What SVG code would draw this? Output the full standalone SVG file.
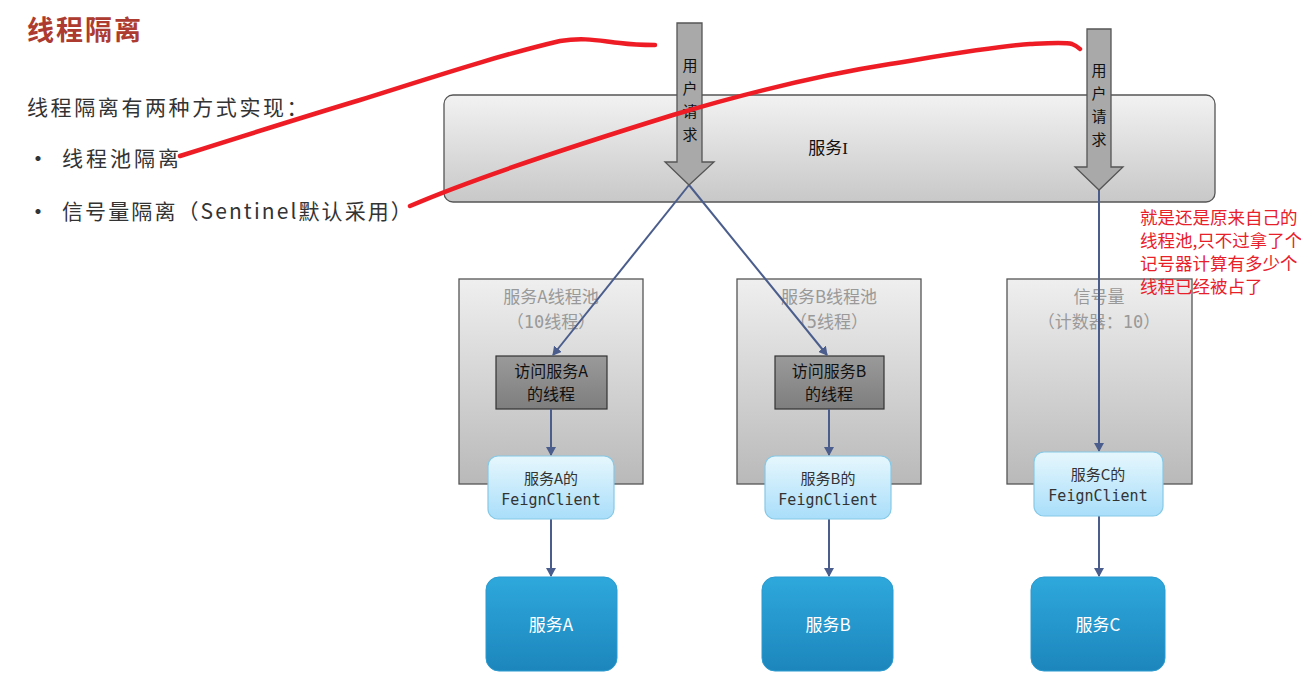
<svg xmlns="http://www.w3.org/2000/svg" width="1301" height="674" viewBox="0 0 1301 674">
<defs>
<linearGradient id="gSvc" x1="0" y1="0" x2="0" y2="1"><stop offset="0" stop-color="#f2f2f2"/><stop offset="1" stop-color="#c8c8c8"/></linearGradient>
<linearGradient id="gPool" x1="0" y1="0" x2="0" y2="1"><stop offset="0" stop-color="#efefef"/><stop offset="1" stop-color="#b9b9b9"/></linearGradient>
<linearGradient id="gThr" x1="0" y1="0" x2="0" y2="1"><stop offset="0" stop-color="#9a9a9a"/><stop offset="1" stop-color="#7e7e7e"/></linearGradient>
<linearGradient id="gFeign" x1="0" y1="0" x2="0" y2="1"><stop offset="0" stop-color="#e6f7fd"/><stop offset="1" stop-color="#a9defa"/></linearGradient>
<linearGradient id="gBlue" x1="0" y1="0" x2="0" y2="1"><stop offset="0" stop-color="#2ea8dc"/><stop offset="1" stop-color="#1c86bc"/></linearGradient>
<marker id="ah" markerWidth="10" markerHeight="10" refX="8" refY="5" orient="auto" markerUnits="userSpaceOnUse"><path d="M0,0 L9,5 L0,10 z" fill="#4a5d8c"/></marker>
<style>
.cjk{font-family:"Noto Sans CJK SC","Noto Sans",sans-serif}
.mono{font-family:"DejaVu Sans Mono","Noto Sans CJK SC",monospace}
.pool{fill:url(#gPool);stroke:#555;stroke-width:1.3}
.ptitle{fill:#999;font-size:17px;text-anchor:middle}
.thr{fill:url(#gThr);stroke:#333;stroke-width:1.2}
.thrt{fill:#111;font-size:16px;text-anchor:middle}
.feign{fill:url(#gFeign);stroke:#86c9e6;stroke-width:1.2}
.feignt{fill:#333;font-size:15px;text-anchor:middle}
.svc{fill:url(#gBlue);stroke:#2a9ad0;stroke-width:1}
.svct{fill:#fff;font-size:17px;text-anchor:middle}
.conn{stroke:#4a5d8c;stroke-width:2;fill:none;marker-end:url(#ah)}
.bigarrow{fill:#a9a9a9;stroke:#555;stroke-width:1.3}
.vt{fill:#111;font-size:15px;text-anchor:middle}
.red{stroke:#ee1c25;stroke-width:4.5;fill:none;stroke-linecap:round;stroke-linejoin:round}
</style>
</defs>
<rect width="1301" height="674" fill="#fff"/>

<g id="left-text" class="cjk">
<text x="27" y="40" font-size="27" font-weight="bold" fill="#ad3b30" letter-spacing="2">线程隔离</text>
<text x="27" y="115" font-size="21" fill="#333" letter-spacing="2.6">线程隔离有两种方式实现：</text>
<text x="26" y="167" font-size="24" fill="#333">•</text>
<text x="62" y="166" font-size="21" fill="#333" letter-spacing="3">线程池隔离</text>
<text x="26" y="220" font-size="24" fill="#333">•</text>
<text x="62" y="219" font-size="21" fill="#333" letter-spacing="2.1">信号量隔离（Sentinel默认采用）</text>
</g>

<g id="service-I">
<rect x="444" y="95" width="771" height="107" rx="9" fill="url(#gSvc)" stroke="#555" stroke-width="1.3"/>
<text x="828" y="154" class="cjk" font-size="17" fill="#111" text-anchor="middle">服务<tspan font-family="Liberation Serif, serif">I</tspan></text>
</g>

<g id="pool-A">
<rect class="pool" x="459" y="279" width="184" height="205"/>
<text class="cjk ptitle" x="551" y="303">服务A线程池</text>
<text class="mono ptitle" x="551" y="328">（10线程）</text>
</g>
<g id="pool-B">
<rect class="pool" x="737" y="279" width="184" height="205"/>
<text class="cjk ptitle" x="829" y="303">服务B线程池</text>
<text class="mono ptitle" x="829" y="328">（5线程）</text>
</g>
<g id="pool-C">
<rect class="pool" x="1007" y="279" width="185" height="205"/>
<text class="cjk ptitle" x="1099" y="303">信号量</text>
<text class="mono ptitle" x="1099" y="328">（计数器：10）</text>
</g>

<g id="thread-A">
<rect class="thr" x="496" y="356" width="111" height="53"/>
<text class="cjk thrt" x="551" y="377">访问服务A</text>
<text class="cjk thrt" x="551" y="400">的线程</text>
</g>
<g id="thread-B">
<rect class="thr" x="775" y="356" width="109" height="53"/>
<text class="cjk thrt" x="829" y="377">访问服务B</text>
<text class="cjk thrt" x="829" y="400">的线程</text>
</g>

<g id="connectors">
<line class="conn" x1="689" y1="185" x2="553" y2="355"/>
<line class="conn" x1="689" y1="185" x2="827" y2="355"/>
<line class="conn" x1="1099" y1="190" x2="1099" y2="451"/>
<line class="conn" x1="551" y1="409" x2="551" y2="455"/>
<line class="conn" x1="829" y1="409" x2="829" y2="455"/>
<line class="conn" x1="551" y1="519" x2="551" y2="576"/>
<line class="conn" x1="829" y1="519" x2="829" y2="576"/>
<line class="conn" x1="1099" y1="516" x2="1099" y2="576"/>
</g>

<g id="feign-A">
<rect class="feign" x="488" y="456" width="126" height="63" rx="10"/>
<text class="cjk feignt" x="551" y="484">服务A的</text>
<text class="mono feignt" x="551" y="505">FeignClient</text>
</g>
<g id="feign-B">
<rect class="feign" x="765" y="456" width="126" height="63" rx="10"/>
<text class="cjk feignt" x="828" y="484">服务B的</text>
<text class="mono feignt" x="828" y="505">FeignClient</text>
</g>
<g id="feign-C">
<rect class="feign" x="1034" y="452" width="129" height="64" rx="10"/>
<text class="cjk feignt" x="1098" y="480">服务C的</text>
<text class="mono feignt" x="1098" y="501">FeignClient</text>
</g>

<g id="svc-A">
<rect class="svc" x="486" y="577" width="131" height="94" rx="13"/>
<text class="cjk svct" x="551" y="631">服务A</text>
</g>
<g id="svc-B">
<rect class="svc" x="762" y="577" width="131" height="94" rx="13"/>
<text class="cjk svct" x="828" y="631">服务B</text>
</g>
<g id="svc-C">
<rect class="svc" x="1031" y="577" width="134" height="94" rx="13"/>
<text class="cjk svct" x="1098" y="631">服务C</text>
</g>

<g id="request-1">
<path class="bigarrow" d="M677,23 L702,23 L702,162 L714,162 L689,185 L665,162 L677,162 Z"/>
<text class="cjk vt" x="690" y="71">用</text>
<text class="cjk vt" x="690" y="94">户</text>
<text class="cjk vt" x="690" y="117">请</text>
<text class="cjk vt" x="690" y="140">求</text>
</g>
<g id="request-2">
<path class="bigarrow" d="M1087,29 L1111,29 L1111,167 L1123,167 L1099,190 L1075,167 L1087,167 Z"/>
<text class="cjk vt" x="1099" y="76">用</text>
<text class="cjk vt" x="1099" y="99">户</text>
<text class="cjk vt" x="1099" y="122">请</text>
<text class="cjk vt" x="1099" y="145">求</text>
</g>

<g id="annotation" class="cjk" font-size="17.5" fill="#e8202a">
<text x="1140" y="224">就是还是原来自己的</text>
<text x="1140" y="247">线程池,只不过拿了个</text>
<text x="1140" y="270">记号器计算有多少个</text>
<text x="1140" y="293">线程已经被占了</text>
</g>

<g id="red-strokes">
<path class="red" d="M180,156 C240,137 300,118 360,100 C430,78 500,55 560,41 C585,37 600,41 620,43 C635,45 645,45 655,45"/>
<path class="red" d="M410,206 C470,180 560,150 673,115 C740,95 820,75 890,64 C940,56 990,47 1030,44 C1050,43 1065,42 1072,44 C1077,46 1079,48 1080,49"/>
</g>
</svg>
